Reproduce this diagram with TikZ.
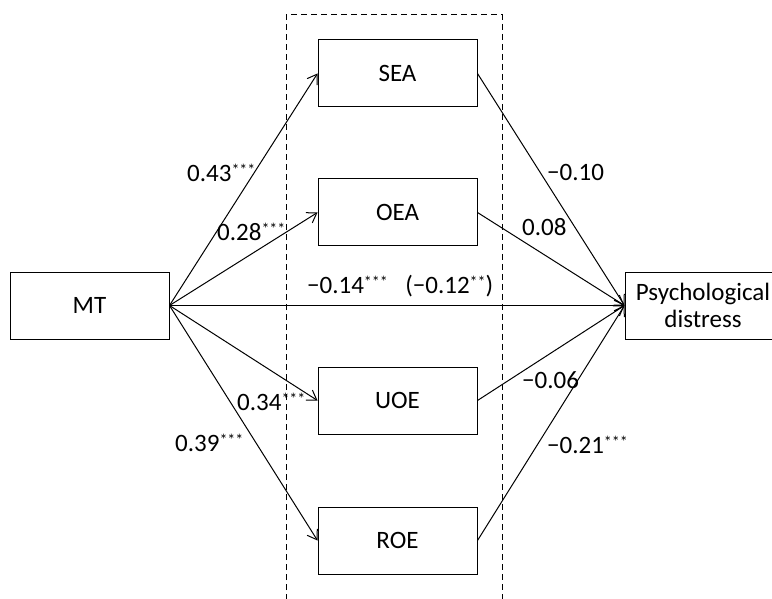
\documentclass[tikz,border=0pt]{standalone}
\usepackage{fontspec}
\setmainfont{Carlito}
\usetikzlibrary{arrows.meta}
\newcommand{\sigstar}[1]{{\fontsize{16}{16}\selectfont\raisebox{6pt}{#1}}}
\begin{document}
\begin{tikzpicture}[x=1pt,y=-1pt,
  box/.style={draw,line width=1pt,minimum width=159pt,minimum height=67pt,inner sep=0pt,font=\fontsize{25}{27}\selectfont},
  conn/.style={line width=1pt,-{Straight Barb[length=9pt,width=12pt,line width=1pt]}},
  lab/.style={anchor=west,inner sep=0pt,font=\fontsize{25}{27}\selectfont}]
\useasboundingbox (0,0) rectangle (772,599);
\draw[line width=1pt,dash pattern=on 6pt off 4pt] (286,610) -- (286,15) -- (502,15) -- (502,610);
\node[box] (mt) at (89.5,305.5) {MT};
\node[box] (sea) at (397.5,73.5) {SEA};
\node[box] (oea) at (397.5,212.5) {OEA};
\node[box] (uoe) at (397.5,400.5) {UOE};
\node[box] (roe) at (397.5,540.5) {ROE};
\node[box,minimum width=156pt,align=center] (pd) at (703,305.5) {Psychological\\distress};
\draw[conn] (mt.east) -- (sea.west);
\draw[conn] (mt.east) -- (oea.west);
\draw[conn] (mt.east) -- (uoe.west);
\draw[conn] (mt.east) -- (roe.west);
\draw[conn] (mt.east) -- (pd.west);
\draw[conn] (sea.east) -- (pd.west);
\draw[conn] (oea.east) -- (pd.west);
\draw[conn] (uoe.east) -- (pd.west);
\draw[conn] (roe.east) -- (pd.west);
\node[lab] (l1) at (187,173) {0.43\sigstar{***}};
\node[lab] (l2) at (217,232) {0.28\sigstar{***}};
\node[lab] (l3) at (307,286) {−0.14\sigstar{***}\hspace{0.7em}(−0.12\sigstar{**})};
\node[lab] (l4) at (237,402) {0.34\sigstar{***}};
\node[lab] (l5) at (175,443) {0.39\sigstar{***}};
\node[lab] (l6) at (547,172) {−0.10};
\node[lab] (l7) at (522,227) {0.08};
\node[lab] (l8) at (522,380) {−0.06};
\node[lab] (l9) at (547,445) {−0.21\sigstar{***}};
\end{tikzpicture}
\end{document}
